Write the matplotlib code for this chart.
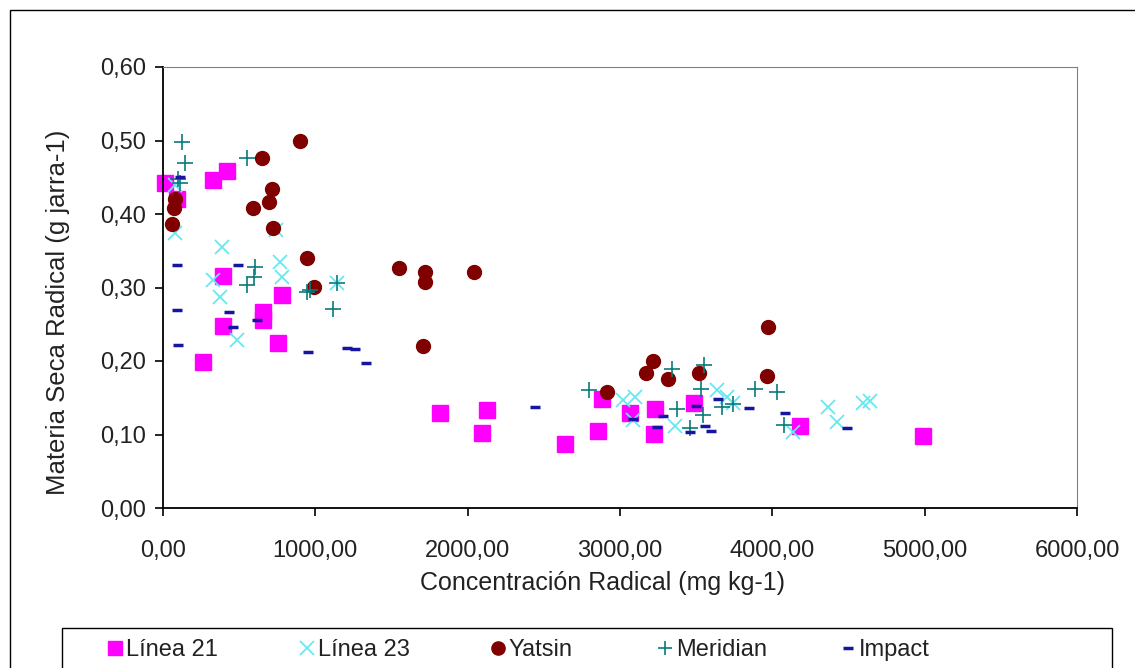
import matplotlib
matplotlib.use('Agg')
import matplotlib.pyplot as plt
from matplotlib.patches import Rectangle
from matplotlib.ticker import FuncFormatter

plt.rcParams['font.family'] = ['Liberation Sans', 'DejaVu Sans']

# Línea 21
l21_x = [13, 92, 328, 420, 394, 394, 263, 781, 657, 657, 755, 1819, 2127, 2094, 2640,
         2856, 2883, 3066, 3230, 3224, 3487, 4183, 4990]
l21_y = [0.442, 0.420, 0.446, 0.458, 0.316, 0.248, 0.199, 0.290, 0.267, 0.256, 0.224, 0.129,
         0.133, 0.102, 0.087, 0.105, 0.148, 0.129, 0.135, 0.101, 0.143, 0.112, 0.098]
# Línea 23
l23_x = [79, 80, 387, 328, 374, 486, 768, 781, 1143, 742, 3020, 3099, 3086, 3362, 3638,
         3703, 3743, 4137, 4366, 4425, 4596, 4642]
l23_y = [0.374, 0.440, 0.355, 0.310, 0.287, 0.229, 0.335, 0.314, 0.306, 0.378, 0.147, 0.151,
         0.120, 0.112, 0.160, 0.151, 0.143, 0.103, 0.138, 0.117, 0.143, 0.145]
# Yatsin
yat_x = [80, 70, 60, 900, 650, 716, 696, 591, 722, 945, 991, 1550, 1720, 1720, 2042, 1707,
         2915, 3217, 3171, 3316, 3519, 3966, 3972]
yat_y = [0.420, 0.408, 0.386, 0.499, 0.476, 0.434, 0.416, 0.408, 0.381, 0.340, 0.301, 0.327,
         0.321, 0.307, 0.321, 0.220, 0.158, 0.200, 0.184, 0.175, 0.184, 0.180, 0.246]
# Meridian
mer_x = [125, 144, 112, 100, 552, 604, 597, 552, 945, 965, 1143, 1116, 2797, 3342, 3552,
         3532, 3375, 3546, 3460, 3670, 3743, 3887, 4032, 4077]
mer_y = [0.498, 0.469, 0.442, 0.447, 0.476, 0.328, 0.314, 0.303, 0.294, 0.297, 0.306, 0.271,
         0.161, 0.189, 0.195, 0.162, 0.135, 0.127, 0.109, 0.137, 0.142, 0.162, 0.158, 0.113]
# Impact
imp_x = [92, 92, 98, 112, 492, 433, 460, 617, 952, 1208, 1261, 1333, 2443, 3086, 3283,
         3243, 3460, 3644, 3559, 3598, 3500, 3848, 4084, 4491]
imp_y = [0.331, 0.269, 0.222, 0.450, 0.331, 0.267, 0.246, 0.256, 0.212, 0.218, 0.216, 0.197,
         0.137, 0.121, 0.125, 0.110, 0.103, 0.148, 0.112, 0.105, 0.139, 0.136, 0.129, 0.109]

fig = plt.figure(figsize=(11.35, 6.68), dpi=100)
ax = fig.add_axes([163 / 1135, 1 - 508 / 668, (1077 - 163) / 1135, (508 - 67) / 668])

h1, = ax.plot(l21_x, l21_y, 's', color='#FF00FF', ms=11, mec='#FF00FF', label='Línea 21', ls='none',
              clip_on=False)
h2, = ax.plot(l23_x, l23_y, 'x', color='#66E8F0', ms=10, mew=1.3, label='Línea 23', ls='none',
              clip_on=False)
h3, = ax.plot(yat_x, yat_y, 'o', color='#800000', ms=10, label='Yatsin', ls='none', clip_on=False)
h4, = ax.plot(mer_x, mer_y, '+', color='#0A7A7A', ms=11, mew=1.2, label='Meridian', ls='none',
              clip_on=False)
h5, = ax.plot(imp_x, imp_y, '_', color='#1515A0', ms=7, mew=2.5, label='Impact', ls='none',
              clip_on=False)

ax.set_xlim(0, 6000)
ax.set_ylim(0, 0.6)
ax.set_xticks(range(0, 6001, 1000))
ax.set_yticks([0, 0.1, 0.2, 0.3, 0.4, 0.5, 0.6])
ax.xaxis.set_major_formatter(FuncFormatter(lambda v, p: f'{v:.2f}'.replace('.', ',')))
ax.yaxis.set_major_formatter(FuncFormatter(lambda v, p: f'{v:.2f}'.replace('.', ',')))
ax.tick_params(labelsize=17, direction='out', length=6, width=1.2, colors='black',
               labelcolor='#222222')
ax.tick_params(axis='x', pad=17)
ax.tick_params(axis='y', pad=6)

for s in ['top', 'right']:
    ax.spines[s].set_color('#808080')
for s in ['left', 'bottom']:
    ax.spines[s].set_color('black')
    ax.spines[s].set_linewidth(1.3)

ax.set_xlabel('Concentración Radical (mg kg-1)', fontsize=18, color='#222222')
ax.set_ylabel('Materia Seca Radical (g jarra-1)', fontsize=18.5, color='#222222')
ax.xaxis.set_label_coords((602 - 163) / 914, -(571 - 508) / 441)
ax.yaxis.set_label_coords(-(163 - 70) / 914, (508 - 312) / 441)

# outer chart border and legend box
fig.patches.append(Rectangle((10 / 1135, -0.1), 1.2, 1 - 10 / 668 + 0.1, transform=fig.transFigure,
                             fill=False, edgecolor='black', lw=1))
fig.patches.append(Rectangle((62 / 1135, -0.1), (1112 - 62) / 1135, 1 - 628 / 668 + 0.1,
                             transform=fig.transFigure, fill=False, edgecolor='black', lw=1))

leg_x = [108, 300, 491, 658, 841]
for h, lx in zip([h1, h2, h3, h4, h5], leg_x):
    fig.legend(handles=[h], loc='center left', bbox_to_anchor=(lx / 1135, 1 - 650 / 668),
               frameon=False, prop={'size': 17},
               handletextpad=0.15, handlelength=0.6, borderpad=0, borderaxespad=0,
               markerscale=0.95, labelcolor='#222222')

fig.savefig('out.png', dpi=100)
